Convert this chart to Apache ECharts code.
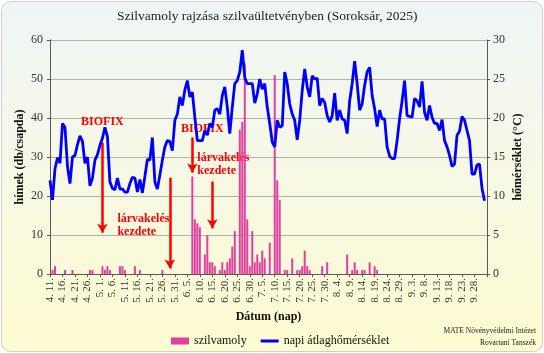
<!DOCTYPE html>
<html>
<head>
<meta charset="utf-8">
<script src="https://cdn.jsdelivr.net/npm/echarts@6/dist/echarts.min.js"></script>
<style>
html,body{margin:0;padding:0;background:#fff;}
#chart{width:544px;height:353px;}
</style>
</head>
<body>
<div id="chart"></div>
<script>
// ---- data ----
var startMonth = 4, startDay = 11, dayCount = 176; // 4. 11. ... 10. 3.
var monthLengths = {4: 30, 5: 31, 6: 30, 7: 31, 8: 31, 9: 30, 10: 31};

var chartTitle = 'Szilvamoly rajzása szilvaültetvényben (Soroksár, 2025)';
var leftAxisName = 'hímek (db/csapda)';
var rightAxisName = 'hőmérséklet (°C)';
var xAxisName = 'Dátum (nap)';
var seriesNames = ['szilvamoly', 'napi átlaghőmérséklet'];
var leftTicks = [0, 10, 20, 30, 40, 50, 60];
var rightTicks = [0, 5, 10, 15, 20, 25, 30];

// daily mean temperature (°C), starting 4. 11.
var tempValues = [
  12.0, 9.5, 13.5, 14.9, 14.2, 19.3, 18.8, 13.8, 11.6, 15.0,
  15.2, 16.6, 17.7, 17.0, 14.2, 15.0, 11.3, 12.3, 14.6, 15.3,
  16.5, 17.4, 18.8, 17.6, 11.8, 11.0, 10.8, 12.3, 10.9, 10.9,
  10.5, 10.5, 11.6, 12.4, 12.3, 10.5, 12.1, 10.4, 12.5, 14.7,
  14.6, 17.5, 11.8, 10.9, 12.7, 14.6, 16.3, 17.1, 17.0, 15.8,
  19.7, 20.5, 22.7, 21.6, 23.6, 24.8, 22.7, 23.3, 20.1, 17.1,
  17.1, 17.1, 18.4, 17.8, 19.3, 18.8, 21.0, 21.2, 20.5, 22.9,
  24.0, 21.4, 18.0, 21.4, 24.4, 24.8, 25.9, 28.7, 25.2, 24.4,
  24.4, 24.4, 21.9, 23.1, 25.0, 23.7, 24.4, 21.4, 19.3, 16.9,
  16.3, 19.7, 18.8, 19.0, 25.9, 24.4, 21.8, 20.5, 19.7, 17.2,
  19.7, 23.5, 26.3, 24.0, 22.7, 25.4, 25.0, 25.1, 21.6, 22.5,
  22.0, 20.3, 19.5, 20.3, 23.2, 19.7, 21.0, 19.9, 19.7, 18.0,
  22.2, 24.4, 27.3, 24.4, 21.0, 21.8, 24.2, 25.9, 26.5, 22.9,
  21.2, 18.9, 21.0, 19.9, 19.9, 16.3, 15.1, 14.8, 14.8, 17.1,
  19.9, 22.2, 24.8, 20.3, 20.2, 20.1, 22.5, 22.2, 21.4, 24.7,
  20.7, 19.7, 21.6, 20.1, 19.3, 19.3, 18.4, 19.8, 17.1, 16.3,
  15.2, 13.8, 14.1, 17.8, 18.3, 20.2, 19.7, 18.4, 17.1, 12.8,
  12.8, 14.0, 14.1, 11.0, 9.4
];

// male moths caught (db/csapda)
var mothDates = [
  '4. 12.', '4. 13.', '4. 17.', '4. 20.', '4. 27.', '4. 28.',
  '5. 2.', '5. 3.', '5. 4.', '5. 5.', '5. 9.', '5. 10.', '5. 11.', '5. 15.', '5. 17.', '5. 26.',
  '6. 7.', '6. 8.', '6. 9.', '6. 10.', '6. 12.', '6. 13.', '6. 14.', '6. 15.', '6. 16.', '6. 18.',
  '6. 19.', '6. 20.', '6. 21.', '6. 22.', '6. 23.', '6. 24.', '6. 26.', '6. 27.', '6. 28.', '6. 29.', '6. 30.',
  '7. 1.', '7. 2.', '7. 3.', '7. 4.', '7. 5.', '7. 6.', '7. 8.', '7. 10.', '7. 11.', '7. 12.', '7. 14.',
  '7. 15.', '7. 17.', '7. 19.', '7. 20.', '7. 21.', '7. 22.', '7. 23.', '7. 24.', '7. 29.', '7. 31.',
  '8. 8.', '8. 10.', '8. 11.', '8. 12.', '8. 14.', '8. 15.', '8. 17.', '8. 19.', '8. 20.'
];
var mothCounts = [
  1, 2, 1, 1, 1, 1,
  2, 1, 2, 1, 2, 2, 1, 2, 1, 1,
  25, 14, 13, 12, 5, 10, 3, 3, 2, 1,
  3, 1, 3, 4, 7, 11, 37, 39, 54, 14, 2,
  11, 3, 5, 3, 6, 4, 8, 51, 24, 19, 1,
  1, 4, 1, 1, 2, 6, 2, 1, 2, 3,
  5, 1, 3, 1, 1, 1, 3, 2, 1
];

// annotations (BIOFIX / lárvakelés kezdete)
var arrowDates = ['5. 2.', '5. 29.', '6. 7.', '6. 15.'];
var arrowFrom = [33.7, 24.7, 35.0, 23.7];
var arrowTo = [10.6, 1.4, 26.0, 11.7];
var noteTexts = ['BIOFIX', 'lárvakelés\nkezdete', 'BIOFIX', 'lárvakelés\nkezdete'];
var noteIdx = [21.4, 26.6, 61.0, 59.4];
var noteVal = [39.1, 12.4, 37.3, 28.2];
var noteAlign = ['center', 'left', 'center', 'left'];

// ---- build categories ----
var categories = [];
(function () {
  var m = startMonth, d = startDay;
  for (var i = 0; i < dayCount; i++) {
    categories.push(m + '. ' + d + '.');
    d++;
    if (d > monthLengths[m]) { d = 1; m++; }
  }
})();

var barData = categories.map(function (c) {
  var k = mothDates.indexOf(c);
  return k >= 0 ? mothCounts[k] : null;
});

var serif = '"Liberation Serif", "Times New Roman", serif';

var markLineData = arrowDates.map(function (d, i) {
  return [{ coord: [d, arrowFrom[i]] }, { coord: [d, arrowTo[i]] }];
});
var markPointData = noteTexts.map(function (t, i) {
  return {
    coord: [noteIdx[i], noteVal[i]],
    label: { formatter: t, align: noteAlign[i] }
  };
});

var chart = echarts.init(document.getElementById('chart'), null, { renderer: 'canvas' });
chart.setOption({
  backgroundColor: '#ffffff',
  animation: false,
  graphic: [{
    type: 'rect',
    left: 1, top: 1, z: -10,
    shape: { width: 541, height: 350, r: 9 },
    style: {
      fill: new echarts.graphic.LinearGradient(0, 0, 0, 1, [
        { offset: 0, color: '#eef5f7' },
        { offset: 0.45, color: '#f6f8e6' },
        { offset: 1, color: '#fdfbd0' }
      ]),
      stroke: '#d0d0d0', lineWidth: 1
    }
  }, {
    type: 'text', right: 8, top: 327,
    style: { text: 'MATE Növényvédelmi Intézet', font: '7.5px ' + serif, fill: '#222' }
  }, {
    type: 'text', right: 8, top: 339,
    style: { text: 'Rovartani Tanszék', font: '7.5px ' + serif, fill: '#222' }
  }],
  title: {
    text: chartTitle, left: 112, top: 4,
    textStyle: { fontFamily: serif, fontSize: 13.5, fontWeight: 'normal', color: '#222' }
  },
  legend: {
    left: 166, top: 330, itemGap: 14, itemWidth: 18, itemHeight: 7,
    textStyle: { fontFamily: serif, fontSize: 12, color: '#111' },
    data: [
      { name: seriesNames[0], icon: 'rect' },
      { name: seriesNames[1], icon: 'path://M0,0H18V3H0Z' }
    ]
  },
  grid: { left: 50, right: 57, top: 40, bottom: 79, containLabel: false },
  xAxis: {
    type: 'category', data: categories, boundaryGap: false,
    name: xAxisName, nameLocation: 'middle', nameGap: 37, nameMoveOverlap: false,
    nameTextStyle: { fontFamily: serif, fontSize: 12, fontWeight: 'bold', color: '#111' },
    axisLine: { lineStyle: { color: '#595959', width: 1 } },
    axisTick: { show: true, length: 3, interval: function (i) { return i % 5 === 0; }, lineStyle: { color: '#595959' } },
    axisLabel: {
      rotate: 90, fontFamily: serif, fontSize: 11, color: '#333', margin: 4,
      interval: function (i) { return i % 5 === 0 && i < 175; }
    },
    splitLine: { show: false }
  },
  yAxis: [{
    type: 'value', min: leftTicks[0], max: leftTicks[leftTicks.length - 1], interval: 10,
    name: leftAxisName, nameLocation: 'middle', nameGap: 24, nameRotate: 90, nameMoveOverlap: false,
    nameTextStyle: { fontFamily: serif, fontSize: 12, fontWeight: 'bold', color: '#111' },
    axisLine: { show: true, lineStyle: { color: '#595959' } },
    axisTick: { show: true, length: 3, lineStyle: { color: '#595959' } },
    axisLabel: { fontFamily: serif, fontSize: 12, color: '#333', margin: 7 },
    splitLine: { show: true, lineStyle: { color: '#b0b0b0', width: 1 } }
  }, {
    type: 'value', min: rightTicks[0], max: rightTicks[rightTicks.length - 1], interval: 5,
    position: 'right',
    name: rightAxisName, nameLocation: 'middle', nameGap: 25, nameRotate: 90, nameMoveOverlap: false,
    nameTextStyle: { fontFamily: serif, fontSize: 12, fontWeight: 'bold', color: '#111' },
    axisLine: { show: true, lineStyle: { color: '#595959' } },
    axisTick: { show: true, length: 3, lineStyle: { color: '#595959' } },
    axisLabel: { fontFamily: serif, fontSize: 12, color: '#333', margin: 6 },
    splitLine: { show: false }
  }],
  series: [{
    name: seriesNames[0], type: 'bar', yAxisIndex: 0, data: barData,
    barWidth: 2, z: 2,
    itemStyle: { color: '#e0409f' },
    markLine: {
      silent: true, symbol: ['none', 'arrow'], symbolSize: [8, 9], z: 3,
      lineStyle: { color: '#ff0000', width: 2.5, type: 'solid' },
      label: { show: false },
      data: markLineData
    },
    markPoint: {
      silent: true, symbol: 'circle', symbolSize: 0, z: 1,
      label: {
        show: true, position: 'inside', color: '#ff0000', fontFamily: serif,
        fontSize: 12, fontWeight: 'bold', lineHeight: 13, verticalAlign: 'middle'
      },
      data: markPointData
    }
  }, {
    name: seriesNames[1], type: 'line', yAxisIndex: 1, data: tempValues,
    showSymbol: false, symbol: 'none', z: 5,
    lineStyle: { color: '#0000ff', width: 2.8 },
    itemStyle: { color: '#0000ff' }
  }]
});
</script>
</body>
</html>
